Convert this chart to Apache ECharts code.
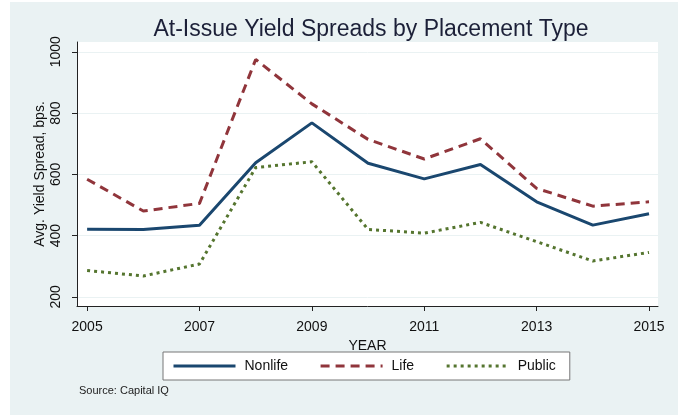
<!DOCTYPE html>
<html>
<head>
<meta charset="utf-8">
<script src="https://cdn.jsdelivr.net/npm/echarts@6/dist/echarts.min.js"></script>
<style>
  html, body { margin: 0; padding: 0; background: #fff; }
  #chart { width: 678px; height: 415px; }
</style>
</head>
<body>
<div id="chart"></div>
<script>
// data
const years = [2005, 2006, 2007, 2008, 2009, 2010, 2011, 2012, 2013, 2014, 2015];
const nonlife = [421, 420, 434, 638, 768, 636, 585, 632, 510, 434, 471];
const life = [584, 480, 505, 975, 830, 714, 650, 716, 554, 496, 510];
const publicVals = [286, 268, 307, 622, 641, 420, 408, 443, 380, 317, 345];
const xTicks = [2005, 2007, 2009, 2011, 2013, 2015];
const yTicks = [200, 400, 600, 800, 1000];

const pairs = (vals) => years.map((y, i) => [y, vals[i]]);

const chart = echarts.init(document.getElementById('chart'));
const font = 'Liberation Sans, Arial, sans-serif';

chart.setOption({
    backgroundColor: '#eaf2f3',
    animation: false,
    textStyle: { fontFamily: font },
    title: {
        text: 'At-Issue Yield Spreads by Placement Type',
        left: 366,
        top: 13,
        textAlign: 'center',
        textStyle: { fontSize: 23, fontWeight: 'normal', color: '#1c2038', fontFamily: font }
    },
    graphic: [
        { type: 'rect', left: 0, top: 0, shape: { width: 10, height: 415 }, style: { fill: '#fff' }, z: -1 },
        { type: 'rect', left: 0, top: 0, shape: { width: 678, height: 2 }, style: { fill: '#fff' }, z: -1 },
        { type: 'text', left: 79, top: 385, style: { text: 'Source: Capital IQ', fontSize: 11, fill: '#222', fontFamily: font } }
    ],
    grid: {
        left: 77, right: 20, top: 42, bottom: 109,
        show: true, backgroundColor: '#fff', borderWidth: 0
    },
    legend: {
        left: 163, top: 352,
        padding: [7, 14, 7, 9],
        itemWidth: 62, itemHeight: 14, itemGap: 31,
        backgroundColor: '#fff',
        borderColor: '#777', borderWidth: 1, borderRadius: 0,
        itemStyle: { opacity: 0 },
        lineStyle: { width: 3 },
        textStyle: { fontSize: 14, color: '#111', padding: [0, 0, 0, 4], fontFamily: font },
        data: ['Nonlife', 'Life', 'Public']
    },
    xAxis: {
        type: 'value',
        min: 2004.82, max: 2015.16,
        name: 'YEAR', nameLocation: 'middle', nameGap: 33,
        nameTextStyle: { fontSize: 14, color: '#111' },
        axisLine: { show: true, lineStyle: { color: '#222', width: 1 } },
        axisTick: { show: true, length: 5, customValues: xTicks, lineStyle: { color: '#222' } },
        axisLabel: { customValues: xTicks, fontSize: 14, color: '#111', margin: 14, formatter: (v) => String(v) },
        splitLine: { show: false }
    },
    yAxis: {
        type: 'value',
        min: 170, max: 1032,
        name: 'Avg. Yield Spread, bps.', nameLocation: 'middle', nameGap: 30, nameRotate: 90,
        nameMoveOverlap: false,
        nameTextStyle: { fontSize: 14, color: '#111' },
        axisLine: { show: true, lineStyle: { color: '#222', width: 1 } },
        axisTick: { show: true, length: 5, customValues: yTicks, lineStyle: { color: '#222' } },
        axisLabel: { customValues: yTicks, fontSize: 14, color: '#111', rotate: 90, margin: 14, formatter: (v) => String(v) },
        splitLine: { show: true, lineStyle: { color: '#eaf2f3', width: 1 } }
    },
    series: [
        {
            name: 'Nonlife', type: 'line', data: pairs(nonlife),
            symbol: 'none', color: '#1a476f',
            lineStyle: { width: 3, color: '#1a476f' }
        },
        {
            name: 'Life', type: 'line', data: pairs(life),
            symbol: 'none', color: '#90353b',
            lineStyle: { width: 3, color: '#90353b', type: [9, 6] }
        },
        {
            name: 'Public', type: 'line', data: pairs(publicVals),
            symbol: 'none', color: '#55752f',
            lineStyle: { width: 3, color: '#55752f', type: [3, 4] }
        }
    ]
});
</script>
</body>
</html>
